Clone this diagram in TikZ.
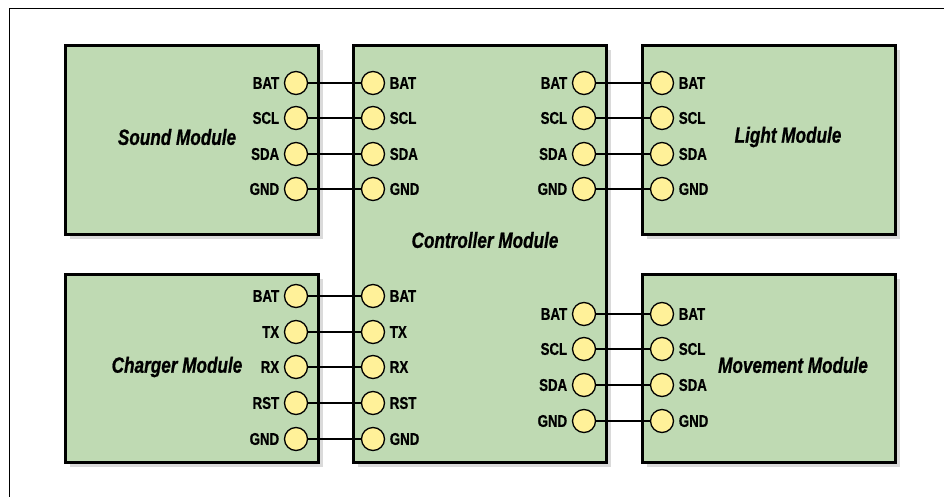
\documentclass[tikz,border=0pt]{standalone}
\usepackage{fontspec}
\setmainfont{Liberation Sans}[FakeStretch=0.78,BoldFeatures={FakeBold=0.8},BoldItalicFeatures={FakeBold=0.8}]
\usetikzlibrary{shadows}
\definecolor{modgreen}{RGB}{191,218,179}
\definecolor{jackyellow}{RGB}{255,241,153}
\definecolor{shadowgray}{RGB}{218,218,218}
\begin{document}
\begin{tikzpicture}[x=1pt,y=-1pt,font=\bfseries,
  module/.style={draw,line width=2.6pt,fill=modgreen,anchor=north west,inner sep=0,minimum width=253pt,drop shadow={shadow xshift=5pt,shadow yshift=-5pt,fill=shadowgray,opacity=1}},
  jack/.style={circle,draw,line width=1.3pt,fill=jackyellow,minimum size=23pt,inner sep=0,label distance=0pt},
  plab/.style={font=\fontsize{17}{19}\selectfont\bfseries,inner xsep=4.5pt,inner ysep=0pt},
  modname/.style={font=\fontsize{22}{25}\selectfont\bfseries\itshape},
  wire/.style={line width=1.3pt}]
\useasboundingbox (0,0) rectangle (944,497);
\draw[line width=.8pt] (9,497)--(9,8)--(944,8);
\node[module,minimum height=189pt] (sound) at (64,44){};\node[module,minimum height=189pt] (light) at (641,44){};
\node[module,minimum height=188pt] (charger) at (64,273){};\node[module,minimum height=188pt] (movement) at (641,273){};
\node[module,minimum height=417pt] (ctrl) at (352,44){};
\node[modname] (soundname) at (177,137){Sound Module};\node[modname] (lightname) at (788,137){Light Module};
\node[modname] (chargername) at (177,367){Charger Module};\node[modname] (movementname) at (793,365){Movement Module};
\node[modname] (ctrlname) at (485,240){Controller Module};
\foreach \y/\t [count=\i] in {83/BAT,118/SCL,154/SDA,189/GND}{\node[jack,label={[plab]left:\t}] (s\i) at (296,\y){};\node[jack,label={[plab]right:\t}] (cl\i) at (373,\y){};
  \node[jack,label={[plab]left:\t}] (cr\i) at (584,\y){};\node[jack,label={[plab]right:\t}] (l\i) at (662,\y){};\draw[wire] (s\i)--(cl\i) (cr\i)--(l\i);}
\foreach \y/\t [count=\i] in {296/BAT,332/TX,367/RX,403/RST,439/GND}{\node[jack,label={[plab]left:\t}] (ch\i) at (296,\y){};\node[jack,label={[plab]right:\t}] (cb\i) at (373,\y){};\draw[wire] (ch\i)--(cb\i);}
\foreach \y/\t [count=\i] in {314/BAT,349/SCL,385/SDA,421/GND}{\node[jack,label={[plab]left:\t}] (cm\i) at (584,\y){};\node[jack,label={[plab]right:\t}] (mv\i) at (662,\y){};\draw[wire] (cm\i)--(mv\i);}
\end{tikzpicture}
\end{document}
